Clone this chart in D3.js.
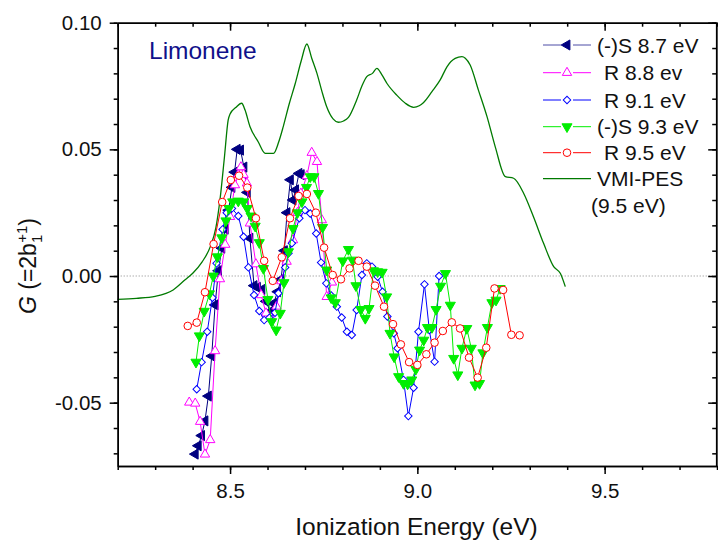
<!DOCTYPE html>
<html>
<head>
<meta charset="utf-8">
<script src="https://cdn.jsdelivr.net/npm/d3@7"></script>
<style>
  body { margin: 0; background: #fff; }
  svg text { font-family: "Liberation Sans", Arial, sans-serif; }
</style>
</head>
<body>
<div id="chart"></div>
<script>
// Limonene PECD: G(=2b1) vs ionization energy

// Data
const sx87 = [8.407, 8.415, 8.424, 8.433, 8.442, 8.451, 8.460, 8.469, 8.478, 8.487, 8.496, 8.505, 8.512, 8.519, 8.528, 8.537, 8.546, 8.553, 8.564, 8.573, 8.585, 8.596, 8.607, 8.616, 8.627, 8.636, 8.645, 8.652, 8.661, 8.668, 8.675, 8.684, 8.690];
const sy87 = [-0.0703, -0.067, -0.063, -0.0572, -0.0474, -0.0316, -0.0114, 0.0021, 0.011, 0.0185, 0.026, 0.035, 0.041, 0.050, 0.0497, 0.043, 0.033, 0.0149, -0.0038, -0.0045, -0.0053, -0.010, -0.014, -0.0108, -0.0062, -0.0013, 0.010, 0.025, 0.038, 0.030, 0.034, 0.0405, 0.040];

const rx88 = [8.391, 8.407, 8.420, 8.433, 8.447, 8.460, 8.473, 8.487, 8.500, 8.513, 8.522, 8.529, 8.536, 8.545, 8.553, 8.569, 8.583, 8.596, 8.610, 8.624, 8.637, 8.651, 8.668, 8.680, 8.689, 8.705, 8.718, 8.732, 8.745, 8.758, 8.772];
const ry88 = [-0.0499, -0.0503, -0.0575, -0.0704, -0.0647, -0.0296, -0.0012, 0.0124, 0.0234, 0.0359, 0.040, 0.043, 0.040, 0.0366, 0.0208, 0.0047, -0.0075, -0.0147, -0.0167, -0.012, -0.002, 0.0057, 0.0142, 0.025, 0.0326, 0.0395, 0.0487, 0.0451, 0.0221, -0.0082, -0.0025];

const rx91 = [8.411, 8.424, 8.439, 8.453, 8.464, 8.480, 8.491, 8.505, 8.522, 8.536, 8.549, 8.564, 8.578, 8.591, 8.605, 8.620, 8.629, 8.647, 8.656, 8.665, 8.685, 8.700, 8.714, 8.730, 8.743, 8.757, 8.770, 8.785, 8.798, 8.812, 8.825, 8.838, 8.852, 8.865, 8.879, 8.894, 8.907, 8.920, 8.937, 8.947, 8.963, 8.976, 8.990, 9.003, 9.019, 9.032, 9.046, 9.058];
const ry91 = [-0.0447, -0.034, -0.022, -0.0086, 0.0050, 0.0184, 0.025, 0.0267, 0.0237, 0.0155, 0.0034, -0.0075, -0.0138, -0.0174, -0.0165, -0.0145, -0.0068, 0.0034, 0.009, 0.0129, 0.0228, 0.026, 0.0247, 0.0168, 0.0053, -0.0029, -0.0077, -0.0121, -0.0164, -0.022, -0.0233, -0.0134, 0.0004, 0.005, 0.0037, -0.0003, -0.0062, -0.016, -0.0226, -0.0285, -0.041, -0.0553, -0.0441, -0.022, -0.0033, -0.0213, -0.0338, 0.000];

const sx93 = [8.409, 8.418, 8.431, 8.445, 8.455, 8.466, 8.478, 8.489, 8.497, 8.507, 8.522, 8.536, 8.546, 8.556, 8.567, 8.578, 8.589, 8.601, 8.611, 8.623, 8.634, 8.644, 8.656, 8.668, 8.680, 8.692, 8.704, 8.714, 8.724, 8.736, 8.747, 8.758, 8.770, 8.781, 8.801, 8.816, 8.827, 8.836, 8.849, 8.861, 8.871, 8.883, 8.894, 8.906, 8.918, 8.927, 8.938, 8.950, 8.963, 8.974, 8.985, 8.996, 9.006, 9.017, 9.027, 9.039, 9.050, 9.062, 9.075, 9.088, 9.097, 9.108, 9.119, 9.132, 9.144, 9.154, 9.166, 9.175, 9.187, 9.199, 9.210, 9.221];
const sy93 = [-0.034, -0.0236, -0.0139, -0.0070, 0.000, 0.0076, 0.0151, 0.0218, 0.0267, 0.0293, 0.0296, 0.0293, 0.0267, 0.0237, 0.0197, 0.0132, 0.003, -0.0092, -0.018, -0.0213, -0.0147, -0.0026, 0.0096, 0.0188, 0.025, 0.0293, 0.035, 0.0392, 0.0392, 0.0326, 0.0192, 0.0024, -0.0086, -0.0105, 0.006, 0.0105, 0.0063, -0.0038, -0.0132, -0.0167, -0.0128, 0.0021, 0.0017, 0.0015, -0.0082, -0.0226, -0.0319, -0.0397, -0.0424, -0.0426, -0.041, -0.0368, -0.0292, -0.0253, -0.0203, -0.0203, -0.0132, -0.004, 0.001, -0.0115, -0.0325, -0.039, -0.0285, -0.0207, -0.0285, -0.043, -0.0424, -0.0303, -0.0203, -0.0105, -0.0095, -0.0049];

const rx95 = [8.387, 8.411, 8.433, 8.456, 8.479, 8.502, 8.524, 8.546, 8.569, 8.591, 8.614, 8.638, 8.660, 8.683, 8.705, 8.729, 8.751, 8.774, 8.796, 8.819, 8.843, 8.865, 8.887, 8.911, 8.935, 8.956, 8.978, 9.000, 9.024, 9.046, 9.068, 9.092, 9.114, 9.138, 9.161, 9.184, 9.206, 9.229, 9.251, 9.273];
const ry95 = [-0.0197, -0.0184, -0.0064, 0.0126, 0.0292, 0.0379, 0.0396, 0.0349, 0.0228, 0.006, -0.0019, 0.0074, 0.0228, 0.0316, 0.0324, 0.025, 0.0112, 0.0004, -0.0013, 0.003, 0.006, 0.0037, -0.0038, -0.0121, -0.019, -0.027, -0.034, -0.0351, -0.0309, -0.0263, -0.0217, -0.0183, -0.0207, -0.0322, -0.0401, -0.0283, -0.0049, -0.0055, -0.0232, -0.0234];

const pesX = [8.200, 8.250, 8.300, 8.348, 8.380, 8.401, 8.425, 8.447, 8.462, 8.473, 8.485, 8.495, 8.500, 8.515, 8.531, 8.540, 8.553, 8.575, 8.594, 8.616, 8.630, 8.642, 8.658, 8.674, 8.690, 8.705, 8.718, 8.732, 8.745, 8.758, 8.775, 8.789, 8.803, 8.816, 8.838, 8.852, 8.865, 8.880, 8.892, 8.905, 8.919, 8.945, 8.968, 8.990, 9.005, 9.016, 9.039, 9.061, 9.079, 9.101, 9.119, 9.128, 9.141, 9.163, 9.186, 9.208, 9.235, 9.257, 9.284, 9.310, 9.337, 9.364, 9.382, 9.395];
const pesY = [-0.0092, -0.0088, -0.0080, -0.0055, -0.0015, 0.0012, 0.0055, 0.0115, 0.019, 0.030, 0.047, 0.0616, 0.0640, 0.0665, 0.0682, 0.0655, 0.059, 0.053, 0.0484, 0.0484, 0.053, 0.059, 0.068, 0.076, 0.085, 0.0916, 0.086, 0.080, 0.073, 0.0668, 0.062, 0.0607, 0.0612, 0.0626, 0.0695, 0.075, 0.0787, 0.080, 0.082, 0.0795, 0.076, 0.0714, 0.0682, 0.0666, 0.0672, 0.0684, 0.0728, 0.0774, 0.0826, 0.0859, 0.0866, 0.0860, 0.0833, 0.0734, 0.0629, 0.051, 0.0392, 0.0386, 0.0326, 0.0234, 0.0129, 0.0037, 0.001, -0.0042];

const xTicks = [8.5, 9.0, 9.5];
const yTicks = [-0.05, 0.00, 0.05, 0.10];

const seriesNames = ['(-)S 8.7 eV', 'R 8.8 ev', 'R 9.1 eV', '(-)S 9.3 eV', 'R 9.5 eV'];

// Layout
const width = 718, height = 545;
const margin = { left: 117.7, right: 1, top: 22.7, bottom: 79 };

const svg = d3.select('#chart').append('svg')
    .attr('width', width)
    .attr('height', height);

const x = d3.scaleLinear().domain([8.2, 9.8]).range([margin.left, width - margin.right]);
const y = d3.scaleLinear().domain([-0.075, 0.10]).range([height - margin.bottom, margin.top]);

const series = [
    { name: seriesNames[0], xs: sx87, ys: sy87, color: '#000080', shape: 'left', fill: true },
    { name: seriesNames[1], xs: rx88, ys: ry88, color: '#ff00ff', shape: 'up', fill: false },
    { name: seriesNames[2], xs: rx91, ys: ry91, color: '#0000ff', shape: 'diamond', fill: false },
    { name: seriesNames[3], xs: sx93, ys: sy93, color: '#00ee00', shape: 'down', fill: true },
    { name: seriesNames[4], xs: rx95, ys: ry95, color: '#ff0000', shape: 'circle', fill: false }
];

// zero line
svg.append('line')
    .attr('x1', x(8.2)).attr('x2', x(9.8))
    .attr('y1', y(0)).attr('y2', y(0))
    .attr('stroke', '#888')
    .attr('stroke-width', 1)
    .attr('stroke-dasharray', '1,2');

const line = d3.line().x(d => x(d[0])).y(d => y(d[1]));

// VMI-PES curve
svg.append('path')
    .datum(d3.zip(pesX, pesY))
    .attr('d', line.curve(d3.curveMonotoneX))
    .attr('fill', 'none')
    .attr('stroke', '#007a00')
    .attr('stroke-width', 1.3);
line.curve(d3.curveLinear);

function marker(g, shape, color, fill) {
    if (shape === 'circle') {
        return g.append('circle').attr('r', 3.8)
            .attr('fill', fill ? color : '#fff').attr('stroke', color).attr('stroke-width', 1);
    }
    let type = d3.symbolTriangle, size = 44, rot = 0;
    if (shape === 'left') rot = -90;
    if (shape === 'down') rot = 180;
    if (shape === 'diamond') { type = d3.symbolSquare; size = 28; rot = 45; }
    if (shape === 'up') size = 38;
    return g.append('path')
        .attr('d', d3.symbol().type(type).size(size)())
        .attr('transform', `rotate(${rot})`)
        .attr('fill', fill ? color : '#fff')
        .attr('stroke', color)
        .attr('stroke-width', 1);
}

series.forEach(s => {
    const pts = d3.zip(s.xs, s.ys);
    svg.append('path')
        .datum(pts)
        .attr('d', line)
        .attr('fill', 'none')
        .attr('stroke', s.color)
        .attr('stroke-width', 1);
    svg.append('g').selectAll('g')
        .data(pts)
        .enter().append('g')
        .attr('transform', d => `translate(${x(d[0])},${y(d[1])})`)
        .each(function() { marker(d3.select(this), s.shape, s.color, s.fill); });
});

// Axes
const xMinor = d3.range(8.2, 9.81, 0.1);
const yMinor = d3.range(-0.07, 0.101, 0.01);
const axisStyle = g => {
    g.select('.domain').attr('stroke-width', 1.5);
    g.selectAll('.tick line').attr('stroke-width', 1.5);
};

svg.append('g').attr('transform', `translate(0,${y.range()[0]})`)
    .call(d3.axisBottom(x).tickValues(xMinor).tickSize(4).tickFormat('').tickSizeOuter(0)).call(axisStyle);
svg.append('g').attr('transform', `translate(0,${y.range()[0]})`)
    .call(d3.axisBottom(x).tickValues(xTicks).tickSize(8).tickPadding(9).tickFormat(d => d.toFixed(1)).tickSizeOuter(0))
    .call(axisStyle)
    .call(g => g.selectAll('text').attr('font-size', 20.5).attr('fill', '#111'));
svg.append('g').attr('transform', `translate(0,${y.range()[1]})`)
    .call(d3.axisBottom(x).tickValues(xMinor).tickSize(4).tickFormat('').tickSizeOuter(0)).call(axisStyle);
svg.append('g').attr('transform', `translate(0,${y.range()[1]})`)
    .call(d3.axisBottom(x).tickValues(xTicks).tickSize(8).tickFormat('').tickSizeOuter(0)).call(axisStyle);

svg.append('g').attr('transform', `translate(${x.range()[0]},0)`)
    .call(d3.axisLeft(y).tickValues(yMinor).tickSize(4).tickFormat('').tickSizeOuter(0)).call(axisStyle);
svg.append('g').attr('transform', `translate(${x.range()[0]},0)`)
    .call(d3.axisLeft(y).tickValues(yTicks).tickSize(8).tickPadding(8).tickFormat(d => d.toFixed(2)).tickSizeOuter(0))
    .call(axisStyle)
    .call(g => g.selectAll('text').attr('font-size', 20.5).attr('fill', '#111'));
svg.append('g').attr('transform', `translate(${x.range()[1] - 0.8},0)`)
    .call(d3.axisLeft(y).tickValues(yMinor).tickSize(4).tickFormat('').tickSizeOuter(0)).call(axisStyle);
svg.append('g').attr('transform', `translate(${x.range()[1] - 0.8},0)`)
    .call(d3.axisLeft(y).tickValues(yTicks).tickSize(8).tickFormat('').tickSizeOuter(0)).call(axisStyle);

// Axis titles
svg.append('text')
    .attr('x', 416.5).attr('y', 535)
    .attr('text-anchor', 'middle')
    .attr('font-size', 24.5)
    .attr('fill', '#111')
    .text('Ionization Energy (eV)');

const yTitle = svg.append('text')
    .attr('transform', 'translate(36,266) rotate(-90)')
    .attr('text-anchor', 'middle')
    .attr('font-size', 23)
    .attr('fill', '#111');
yTitle.append('tspan').attr('font-style', 'italic').text('G');
yTitle.append('tspan').text(' (=2b');
yTitle.append('tspan').attr('font-size', 15).attr('dy', 6).text('1');
yTitle.append('tspan').attr('font-size', 15).attr('dy', -15).attr('dx', -8).text('+1');
yTitle.append('tspan').attr('dy', 9).text(')');

// Compound label
svg.append('text')
    .attr('x', 149).attr('y', 59)
    .attr('font-size', 24.5)
    .attr('fill', '#10108a')
    .text('Limonene');

// Legend
const legendY = [45, 72.7, 100, 126.7, 152.7];
const legendTextX = [597, 604, 604, 597, 604];
series.forEach((s, i) => {
    const g = svg.append('g').attr('transform', `translate(0,${legendY[i]})`);
    g.append('line').attr('x1', 543).attr('x2', 591).attr('y1', 0).attr('y2', 0)
        .attr('stroke', s.color).attr('stroke-width', 1).attr('stroke-opacity', i === 0 ? 0.7 : 1);
    const m = g.append('g').attr('transform', 'translate(567,0)');
    m.append('rect').attr('x', -6).attr('y', -6).attr('width', 12).attr('height', 12).attr('fill', '#fff');
    marker(m, s.shape, s.color, s.fill);
    g.append('text').attr('x', legendTextX[i]).attr('y', 7.5).attr('font-size', 21).attr('fill', '#111').text(s.name);
});
const pg = svg.append('g').attr('transform', 'translate(0,178.7)');
pg.append('line').attr('x1', 543).attr('x2', 591).attr('y1', 0).attr('y2', 0)
    .attr('stroke', '#007a00').attr('stroke-width', 1.3);
pg.append('text').attr('x', 597).attr('y', 7.5).attr('font-size', 21).attr('fill', '#111').text('VMI-PES');
pg.append('text').attr('x', 591).attr('y', 34).attr('font-size', 21).attr('fill', '#111').text('(9.5 eV)');
</script>
</body>
</html>
